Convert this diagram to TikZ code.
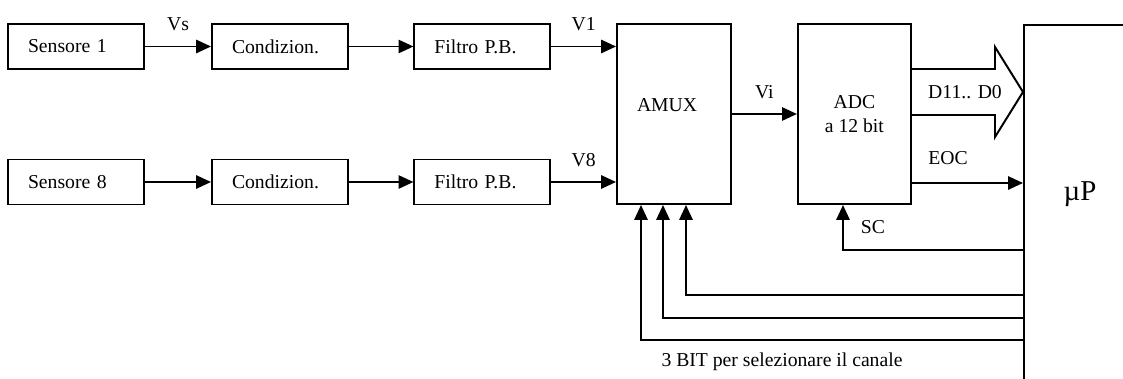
\documentclass[tikz,border=0pt]{standalone}
\usepackage{fontspec}
\setmainfont{Liberation Serif}
\usetikzlibrary{arrows.meta,positioning}

\begin{document}
\begin{tikzpicture}[
    line width=1.4pt,
    font=\fontsize{14}{17}\selectfont,
    blk/.style={draw, minimum height=1.125cm, text width=2.4cm, inner xsep=0.5cm, align=left},
    arr/.style={-{Triangle[length=3.7mm, width=3.3mm]}}
  ]
  % Page size, the uP box is cut by the page edge
  \useasboundingbox (0,0) rectangle (28.075,-9.475);
  \clip (0,0) rectangle (28.075,-9.475);

  % First channel
  \node[blk] (sens1) at (1.9,-1.1625) {Sensore 1};
  \node[blk] (cond1) at (7.0,-1.1625) {Condizion.};
  \node[blk] (filt1) at (12.06,-1.1625) {Filtro P.B.};

  % Last channel
  \node[blk] (sens8) at (1.9,-4.55) {Sensore 8};
  \node[blk] (cond8) at (7.0,-4.55) {Condizion.};
  \node[blk] (filt8) at (12.06,-4.55) {Filtro P.B.};

  % Multiplexer, converter and microprocessor
  \node[draw, minimum height=4.5cm, text width=1.85cm, inner xsep=0.5cm, align=left, text depth=0.45cm] (amux) at (16.85,-2.85) {AMUX};
  \node[draw, minimum width=2.825cm, minimum height=4.5cm, align=center] (adc) at (21.36,-2.85) {ADC\\a 12 bit};
  \node[draw, anchor=north west, minimum width=4cm, minimum height=10cm] (up) at (25.575,-0.6) {};
  \node[font=\fontsize{20.5}{24}\selectfont] (uplbl) at (27.0,-4.85) {µP};

  % Signal chain
  \draw[arr] (sens1) -- node[above=0.25cm] (vs) {Vs} (cond1);
  \draw[arr] (cond1) -- (filt1);
  \draw[arr] (filt1) -- node[above=0.25cm] (v1) {V1} (filt1 -| amux.west);
  \draw[arr] (sens8) -- (cond8);
  \draw[arr] (cond8) -- (filt8);
  \draw[arr] (filt8) -- node[above=0.25cm] (v8) {V8} (filt8 -| amux.west);
  \draw[arr] (amux) -- node[above=0.25cm] (vi) {Vi} (adc);

  % Data bus
  \draw (adc.east |- 0,-1.725) -- (24.875,-1.725) -- (24.875,-1.175) -- (up.west |- 0,-2.3)
    -- (24.875,-3.425) -- (24.875,-2.875) -- (adc.east |- 0,-2.875);
  \node (bus) at (24.125,-2.3) {D11.. D0};

  % End of conversion and start of conversion
  \draw[arr] (adc.east |- 0,-4.575) -- (up.west |- 0,-4.575);
  \node (eoc) at (23.7,-3.95) {EOC};
  \coordinate (sc) at (21.075,-6.25);
  \draw[arr] (up.west |- sc) -| (sc |- adc.south);
  \node (sclbl) at (21.825,-5.675) {SC};

  % Channel select lines
  \foreach \bx/\by in {17.15/7.375, 16.575/7.95, 16.025/8.5} {
    \draw[arr] (up.west |- 0,-\by) -| (\bx,-\by |- amux.south);
  }
  \node (sel) at (19.55,-9.05) {3 BIT per selezionare il canale};
\end{tikzpicture}
\end{document}
